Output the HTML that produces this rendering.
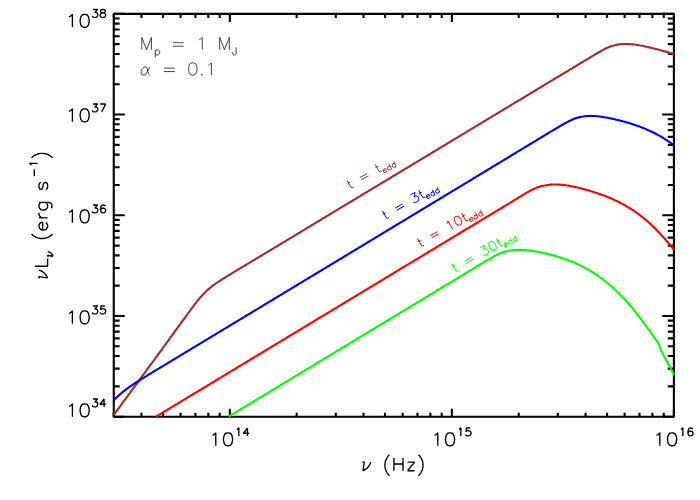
<!DOCTYPE html>
<html><head><meta charset="utf-8"><title>plot</title>
<style>
html,body{margin:0;padding:0;background:#fff;font-family:"Liberation Sans",sans-serif;}
svg{display:block;}
</style></head>
<body>
<svg width="700" height="500" viewBox="0 0 700 500">
<rect x="0" y="0" width="700" height="500" fill="#fff"/>
<rect x="113.75" y="13.85" width="560.15" height="402.85" fill="none" stroke="#000" stroke-width="2.10" stroke-linejoin="round"/>
<path d="M113.75 416.70V412.67M113.75 13.85V17.88M141.49 416.70V412.67M141.49 13.85V17.88M163.01 416.70V412.67M163.01 13.85V17.88M180.59 416.70V412.67M180.59 13.85V17.88M195.45 416.70V412.67M195.45 13.85V17.88M208.33 416.70V412.67M208.33 13.85V17.88M219.68 416.70V412.67M219.68 13.85V17.88M229.84 416.70V408.64M229.84 13.85V21.91M296.68 416.70V412.67M296.68 13.85V17.88M335.78 416.70V412.67M335.78 13.85V17.88M363.52 416.70V412.67M363.52 13.85V17.88M385.03 416.70V412.67M385.03 13.85V17.88M402.62 416.70V412.67M402.62 13.85V17.88M417.48 416.70V412.67M417.48 13.85V17.88M430.36 416.70V412.67M430.36 13.85V17.88M441.71 416.70V412.67M441.71 13.85V17.88M451.87 416.70V408.64M451.87 13.85V21.91M518.71 416.70V412.67M518.71 13.85V17.88M557.81 416.70V412.67M557.81 13.85V17.88M585.55 416.70V412.67M585.55 13.85V17.88M607.06 416.70V412.67M607.06 13.85V17.88M624.64 416.70V412.67M624.64 13.85V17.88M639.51 416.70V412.67M639.51 13.85V17.88M652.38 416.70V412.67M652.38 13.85V17.88M663.74 416.70V412.67M663.74 13.85V17.88M673.90 416.70V408.64M673.90 13.85V21.91M113.75 416.70H124.75M673.90 416.70H662.20M113.75 386.38H119.65M673.90 386.38H667.80M113.75 368.65H119.65M673.90 368.65H667.80M113.75 356.07H119.65M673.90 356.07H667.80M113.75 346.30H119.65M673.90 346.30H667.80M113.75 338.33H119.65M673.90 338.33H667.80M113.75 331.59H119.65M673.90 331.59H667.80M113.75 325.75H119.65M673.90 325.75H667.80M113.75 320.60H119.65M673.90 320.60H667.80M113.75 315.99H124.75M673.90 315.99H662.20M113.75 285.67H119.65M673.90 285.67H667.80M113.75 267.94H119.65M673.90 267.94H667.80M113.75 255.35H119.65M673.90 255.35H667.80M113.75 245.59H119.65M673.90 245.59H667.80M113.75 237.62H119.65M673.90 237.62H667.80M113.75 230.88H119.65M673.90 230.88H667.80M113.75 225.04H119.65M673.90 225.04H667.80M113.75 219.88H119.65M673.90 219.88H667.80M113.75 215.28H124.75M673.90 215.28H662.20M113.75 184.96H119.65M673.90 184.96H667.80M113.75 167.22H119.65M673.90 167.22H667.80M113.75 154.64H119.65M673.90 154.64H667.80M113.75 144.88H119.65M673.90 144.88H667.80M113.75 136.91H119.65M673.90 136.91H667.80M113.75 130.16H119.65M673.90 130.16H667.80M113.75 124.32H119.65M673.90 124.32H667.80M113.75 119.17H119.65M673.90 119.17H667.80M113.75 114.56H124.75M673.90 114.56H662.20M113.75 84.25H119.65M673.90 84.25H667.80M113.75 66.51H119.65M673.90 66.51H667.80M113.75 53.93H119.65M673.90 53.93H667.80M113.75 44.17H119.65M673.90 44.17H667.80M113.75 36.19H119.65M673.90 36.19H667.80M113.75 29.45H119.65M673.90 29.45H667.80M113.75 23.61H119.65M673.90 23.61H667.80M113.75 18.46H119.65M673.90 18.46H667.80M113.75 13.85H124.75M673.90 13.85H662.20" stroke="#000" stroke-width="2.10" fill="none"/>
<clipPath id="c"><rect x="112.75" y="13.85" width="562.15" height="403.85"/></clipPath>
<path d="M113.75 414.99L115.25 412.94L116.75 410.89L118.25 408.84L119.75 406.80L121.25 404.75L122.75 402.70L124.25 400.66L125.75 398.61L127.25 396.57L128.75 394.52L130.25 392.48L131.75 390.43L133.25 388.39L134.75 386.34L136.25 384.30L137.75 382.26L139.25 380.21L140.75 378.17L142.25 376.12L143.75 374.08L145.25 372.04L146.75 369.99L148.25 367.94L149.75 365.90L151.25 363.85L152.75 361.81L154.25 359.76L155.75 357.71L157.25 355.66L158.75 353.61L160.25 351.56L161.75 349.51L163.25 347.46L164.75 345.40L166.25 343.35L167.75 341.29L169.25 339.23L170.75 337.18L172.25 335.12L173.75 333.06L175.25 330.99L176.75 328.93L178.25 326.87L179.75 324.81L181.25 322.74L182.75 320.68L184.25 318.62L185.75 316.56L187.25 314.50L188.75 312.44L190.25 310.38L191.75 308.34L193.25 306.32L194.75 304.33L196.25 302.38L197.75 300.49L199.25 298.67L200.75 296.93L202.25 295.27L203.75 293.69L205.25 292.19L206.75 290.75L208.25 289.39L209.75 288.09L211.25 286.85L212.75 285.68L214.25 284.56L215.75 283.51L217.25 282.50L218.75 281.53L220.25 280.57L221.75 279.62L223.25 278.68L224.75 277.74L226.25 276.81L227.75 275.88L229.25 274.95L230.75 274.03L232.25 273.12L233.75 272.20L235.25 271.29L236.75 270.39L238.25 269.48L239.75 268.58L241.25 267.68L242.75 266.78L244.25 265.88L245.75 264.99L247.25 264.09L248.75 263.20L250.25 262.30L251.75 261.41L253.25 260.51L254.75 259.61L256.25 258.72L257.75 257.82L259.25 256.92L260.75 256.02L262.25 255.12L263.75 254.22L265.25 253.32L266.75 252.42L268.25 251.51L269.75 250.61L271.25 249.71L272.75 248.80L274.25 247.90L275.75 246.99L277.25 246.09L278.75 245.18L280.25 244.27L281.75 243.37L283.25 242.46L284.75 241.56L286.25 240.65L287.75 239.74L289.25 238.84L290.75 237.93L292.25 237.03L293.75 236.12L295.25 235.22L296.75 234.31L298.25 233.40L299.75 232.50L301.25 231.59L302.75 230.69L304.25 229.78L305.75 228.88L307.25 227.97L308.75 227.07L310.25 226.16L311.75 225.26L313.25 224.35L314.75 223.45L316.25 222.54L317.75 221.64L319.25 220.73L320.75 219.83L322.25 218.92L323.75 218.02L325.25 217.11L326.75 216.21L328.25 215.30L329.75 214.40L331.25 213.50L332.75 212.59L334.25 211.69L335.75 210.78L337.25 209.88L338.75 208.97L340.25 208.07L341.75 207.16L343.25 206.26L344.75 205.36L346.25 204.45L347.75 203.55L349.25 202.64L350.75 201.74L352.25 200.83L353.75 199.93L355.25 199.03L356.75 198.12L358.25 197.22L359.75 196.31L361.25 195.41L362.75 194.51L364.25 193.60L365.75 192.70L367.25 191.79L368.75 190.89L370.25 189.99L371.75 189.08L373.25 188.18L374.75 187.27L376.25 186.37L377.75 185.47L379.25 184.56L380.75 183.66L382.25 182.75L383.75 181.85L385.25 180.95L386.75 180.04L388.25 179.14L389.75 178.23L391.25 177.33L392.75 176.43L394.25 175.52L395.75 174.62L397.25 173.72L398.75 172.81L400.25 171.91L401.75 171.00L403.25 170.10L404.75 169.20L406.25 168.29L407.75 167.39L409.25 166.48L410.75 165.58L412.25 164.68L413.75 163.77L415.25 162.87L416.75 161.96L418.25 161.06L419.75 160.15L421.25 159.25L422.75 158.35L424.25 157.44L425.75 156.54L427.25 155.63L428.75 154.73L430.25 153.83L431.75 152.92L433.25 152.02L434.75 151.11L436.25 150.21L437.75 149.30L439.25 148.40L440.75 147.50L442.25 146.59L443.75 145.69L445.25 144.78L446.75 143.88L448.25 142.97L449.75 142.07L451.25 141.17L452.75 140.26L454.25 139.36L455.75 138.45L457.25 137.55L458.75 136.64L460.25 135.74L461.75 134.84L463.25 133.93L464.75 133.03L466.25 132.12L467.75 131.22L469.25 130.31L470.75 129.41L472.25 128.50L473.75 127.60L475.25 126.70L476.75 125.79L478.25 124.89L479.75 123.98L481.25 123.08L482.75 122.17L484.25 121.27L485.75 120.36L487.25 119.46L488.75 118.55L490.25 117.65L491.75 116.75L493.25 115.84L494.75 114.94L496.25 114.03L497.75 113.13L499.25 112.22L500.75 111.32L502.25 110.41L503.75 109.51L505.25 108.61L506.75 107.70L508.25 106.80L509.75 105.89L511.25 104.99L512.75 104.08L514.25 103.18L515.75 102.27L517.25 101.37L518.75 100.46L520.25 99.56L521.75 98.66L523.25 97.75L524.75 96.85L526.25 95.94L527.75 95.04L529.25 94.13L530.75 93.23L532.25 92.32L533.75 91.42L535.25 90.52L536.75 89.61L538.25 88.71L539.75 87.80L541.25 86.90L542.75 85.99L544.25 85.09L545.75 84.18L547.25 83.28L548.75 82.38L550.25 81.47L551.75 80.57L553.25 79.66L554.75 78.76L556.25 77.85L557.75 76.95L559.25 76.05L560.75 75.14L562.25 74.24L563.75 73.34L565.25 72.43L566.75 71.53L568.25 70.62L569.75 69.72L571.25 68.82L572.75 67.91L574.25 67.01L575.75 66.11L577.25 65.21L578.75 64.30L580.25 63.40L581.75 62.50L583.25 61.60L584.75 60.70L586.25 59.80L587.75 58.89L589.25 57.99L590.75 57.09L592.25 56.20L593.75 55.30L595.25 54.40L596.75 53.51L598.25 52.62L599.75 51.75L601.25 50.90L602.75 50.08L604.25 49.29L605.75 48.54L607.25 47.84L608.75 47.20L610.25 46.61L611.75 46.09L613.25 45.64L614.75 45.24L616.25 44.90L617.75 44.62L619.25 44.39L620.75 44.22L622.25 44.09L623.75 44.01L625.25 43.97L626.75 43.97L628.25 44.01L629.75 44.09L631.25 44.21L632.75 44.35L634.25 44.53L635.75 44.73L637.25 44.96L638.75 45.21L640.25 45.47L641.75 45.76L643.25 46.06L644.75 46.38L646.25 46.70L647.75 47.03L649.25 47.38L650.75 47.73L652.25 48.09L653.75 48.46L655.25 48.83L656.75 49.22L658.25 49.60L659.75 50.00L661.25 50.40L662.75 50.80L664.25 51.21L665.75 51.63L667.25 52.05L668.75 52.47L670.25 52.90L671.75 53.32L673.25 53.75L674.00 53.97" fill="none" stroke="#a52a2a" stroke-width="2.10" stroke-linejoin="round" clip-path="url(#c)"/>
<path d="M113.75 400.32L115.25 398.79L116.75 397.32L118.25 395.91L119.75 394.56L121.25 393.26L122.75 392.01L124.25 390.81L125.75 389.66L127.25 388.54L128.75 387.45L130.25 386.40L131.75 385.37L133.25 384.37L134.75 383.39L136.25 382.42L137.75 381.47L139.25 380.52L140.75 379.58L142.25 378.64L143.75 377.71L145.25 376.78L146.75 375.85L148.25 374.93L149.75 374.01L151.25 373.09L152.75 372.18L154.25 371.27L155.75 370.36L157.25 369.45L158.75 368.55L160.25 367.64L161.75 366.74L163.25 365.83L164.75 364.93L166.25 364.03L167.75 363.12L169.25 362.22L170.75 361.31L172.25 360.41L173.75 359.50L175.25 358.60L176.75 357.69L178.25 356.79L179.75 355.88L181.25 354.97L182.75 354.07L184.25 353.16L185.75 352.26L187.25 351.35L188.75 350.44L190.25 349.54L191.75 348.63L193.25 347.72L194.75 346.82L196.25 345.91L197.75 345.00L199.25 344.09L200.75 343.19L202.25 342.28L203.75 341.37L205.25 340.47L206.75 339.56L208.25 338.66L209.75 337.75L211.25 336.84L212.75 335.94L214.25 335.03L215.75 334.13L217.25 333.22L218.75 332.32L220.25 331.41L221.75 330.50L223.25 329.60L224.75 328.69L226.25 327.79L227.75 326.88L229.25 325.98L230.75 325.07L232.25 324.17L233.75 323.26L235.25 322.36L236.75 321.45L238.25 320.55L239.75 319.64L241.25 318.74L242.75 317.83L244.25 316.93L245.75 316.02L247.25 315.12L248.75 314.22L250.25 313.31L251.75 312.41L253.25 311.50L254.75 310.60L256.25 309.69L257.75 308.79L259.25 307.88L260.75 306.98L262.25 306.07L263.75 305.17L265.25 304.26L266.75 303.36L268.25 302.45L269.75 301.55L271.25 300.64L272.75 299.74L274.25 298.83L275.75 297.93L277.25 297.02L278.75 296.12L280.25 295.21L281.75 294.31L283.25 293.40L284.75 292.50L286.25 291.59L287.75 290.69L289.25 289.78L290.75 288.87L292.25 287.97L293.75 287.06L295.25 286.16L296.75 285.25L298.25 284.35L299.75 283.44L301.25 282.54L302.75 281.63L304.25 280.72L305.75 279.82L307.25 278.91L308.75 278.01L310.25 277.10L311.75 276.19L313.25 275.29L314.75 274.38L316.25 273.48L317.75 272.57L319.25 271.66L320.75 270.76L322.25 269.85L323.75 268.94L325.25 268.04L326.75 267.13L328.25 266.23L329.75 265.32L331.25 264.41L332.75 263.51L334.25 262.60L335.75 261.69L337.25 260.79L338.75 259.88L340.25 258.98L341.75 258.07L343.25 257.16L344.75 256.26L346.25 255.35L347.75 254.44L349.25 253.54L350.75 252.63L352.25 251.72L353.75 250.82L355.25 249.91L356.75 249.00L358.25 248.10L359.75 247.19L361.25 246.28L362.75 245.38L364.25 244.47L365.75 243.56L367.25 242.66L368.75 241.75L370.25 240.84L371.75 239.94L373.25 239.03L374.75 238.12L376.25 237.22L377.75 236.31L379.25 235.40L380.75 234.50L382.25 233.59L383.75 232.68L385.25 231.78L386.75 230.87L388.25 229.96L389.75 229.06L391.25 228.15L392.75 227.24L394.25 226.34L395.75 225.43L397.25 224.52L398.75 223.62L400.25 222.71L401.75 221.80L403.25 220.90L404.75 219.99L406.25 219.08L407.75 218.17L409.25 217.27L410.75 216.36L412.25 215.45L413.75 214.55L415.25 213.64L416.75 212.73L418.25 211.83L419.75 210.92L421.25 210.01L422.75 209.11L424.25 208.20L425.75 207.29L427.25 206.39L428.75 205.48L430.25 204.57L431.75 203.67L433.25 202.76L434.75 201.85L436.25 200.95L437.75 200.04L439.25 199.13L440.75 198.23L442.25 197.32L443.75 196.41L445.25 195.51L446.75 194.60L448.25 193.69L449.75 192.79L451.25 191.88L452.75 190.97L454.25 190.06L455.75 189.16L457.25 188.25L458.75 187.34L460.25 186.44L461.75 185.53L463.25 184.62L464.75 183.72L466.25 182.81L467.75 181.90L469.25 180.99L470.75 180.09L472.25 179.18L473.75 178.27L475.25 177.36L476.75 176.46L478.25 175.55L479.75 174.64L481.25 173.74L482.75 172.83L484.25 171.92L485.75 171.01L487.25 170.11L488.75 169.20L490.25 168.29L491.75 167.38L493.25 166.47L494.75 165.57L496.25 164.66L497.75 163.75L499.25 162.84L500.75 161.94L502.25 161.03L503.75 160.12L505.25 159.21L506.75 158.30L508.25 157.40L509.75 156.49L511.25 155.58L512.75 154.67L514.25 153.76L515.75 152.85L517.25 151.95L518.75 151.04L520.25 150.13L521.75 149.22L523.25 148.31L524.75 147.40L526.25 146.49L527.75 145.58L529.25 144.68L530.75 143.77L532.25 142.86L533.75 141.95L535.25 141.04L536.75 140.13L538.25 139.22L539.75 138.31L541.25 137.40L542.75 136.49L544.25 135.58L545.75 134.68L547.25 133.77L548.75 132.86L550.25 131.96L551.75 131.06L553.25 130.16L554.75 129.27L556.25 128.37L557.75 127.48L559.25 126.60L560.75 125.72L562.25 124.84L563.75 123.98L565.25 123.14L566.75 122.32L568.25 121.54L569.75 120.79L571.25 120.08L572.75 119.43L574.25 118.82L575.75 118.28L577.25 117.80L578.75 117.38L580.25 117.02L581.75 116.71L583.25 116.46L584.75 116.26L586.25 116.10L587.75 116.00L589.25 115.93L590.75 115.91L592.25 115.93L593.75 115.98L595.25 116.07L596.75 116.19L598.25 116.34L599.75 116.52L601.25 116.72L602.75 116.95L604.25 117.19L605.75 117.46L607.25 117.74L608.75 118.03L610.25 118.34L611.75 118.65L613.25 118.98L614.75 119.31L616.25 119.66L617.75 120.01L619.25 120.38L620.75 120.76L622.25 121.15L623.75 121.55L625.25 121.96L626.75 122.39L628.25 122.83L629.75 123.28L631.25 123.75L632.75 124.23L634.25 124.73L635.75 125.24L637.25 125.77L638.75 126.31L640.25 126.87L641.75 127.45L643.25 128.04L644.75 128.65L646.25 129.28L647.75 129.93L649.25 130.59L650.75 131.28L652.25 131.99L653.75 132.72L655.25 133.48L656.75 134.26L658.25 135.07L659.75 135.91L661.25 136.78L662.75 137.68L664.25 138.60L665.75 139.57L667.25 140.56L668.75 141.59L670.25 142.66L671.75 143.76L673.25 144.90L674.00 145.48" fill="none" stroke="#0000ff" stroke-width="2.10" stroke-linejoin="round" clip-path="url(#c)"/>
<path d="M156.25 416.50L157.75 415.59L159.25 414.69L160.75 413.78L162.25 412.87L163.75 411.97L165.25 411.06L166.75 410.16L168.25 409.25L169.75 408.35L171.25 407.44L172.75 406.53L174.25 405.63L175.75 404.72L177.25 403.82L178.75 402.91L180.25 402.00L181.75 401.10L183.25 400.19L184.75 399.29L186.25 398.38L187.75 397.47L189.25 396.57L190.75 395.66L192.25 394.76L193.75 393.85L195.25 392.95L196.75 392.04L198.25 391.13L199.75 390.23L201.25 389.32L202.75 388.42L204.25 387.51L205.75 386.60L207.25 385.70L208.75 384.79L210.25 383.89L211.75 382.98L213.25 382.07L214.75 381.17L216.25 380.26L217.75 379.36L219.25 378.45L220.75 377.54L222.25 376.64L223.75 375.73L225.25 374.83L226.75 373.92L228.25 373.01L229.75 372.11L231.25 371.20L232.75 370.30L234.25 369.39L235.75 368.48L237.25 367.58L238.75 366.67L240.25 365.77L241.75 364.86L243.25 363.95L244.75 363.05L246.25 362.14L247.75 361.24L249.25 360.33L250.75 359.42L252.25 358.52L253.75 357.61L255.25 356.71L256.75 355.80L258.25 354.89L259.75 353.99L261.25 353.08L262.75 352.18L264.25 351.27L265.75 350.36L267.25 349.46L268.75 348.55L270.25 347.65L271.75 346.74L273.25 345.83L274.75 344.93L276.25 344.02L277.75 343.12L279.25 342.21L280.75 341.30L282.25 340.40L283.75 339.49L285.25 338.59L286.75 337.68L288.25 336.77L289.75 335.87L291.25 334.96L292.75 334.06L294.25 333.15L295.75 332.24L297.25 331.34L298.75 330.43L300.25 329.53L301.75 328.62L303.25 327.71L304.75 326.81L306.25 325.90L307.75 325.00L309.25 324.09L310.75 323.18L312.25 322.28L313.75 321.37L315.25 320.46L316.75 319.56L318.25 318.65L319.75 317.75L321.25 316.84L322.75 315.93L324.25 315.03L325.75 314.12L327.25 313.22L328.75 312.31L330.25 311.40L331.75 310.50L333.25 309.59L334.75 308.69L336.25 307.78L337.75 306.87L339.25 305.97L340.75 305.06L342.25 304.16L343.75 303.25L345.25 302.35L346.75 301.44L348.25 300.53L349.75 299.63L351.25 298.72L352.75 297.82L354.25 296.91L355.75 296.00L357.25 295.10L358.75 294.19L360.25 293.29L361.75 292.38L363.25 291.47L364.75 290.57L366.25 289.66L367.75 288.76L369.25 287.85L370.75 286.94L372.25 286.04L373.75 285.13L375.25 284.23L376.75 283.32L378.25 282.41L379.75 281.51L381.25 280.60L382.75 279.70L384.25 278.79L385.75 277.89L387.25 276.98L388.75 276.07L390.25 275.17L391.75 274.26L393.25 273.36L394.75 272.45L396.25 271.54L397.75 270.64L399.25 269.73L400.75 268.83L402.25 267.92L403.75 267.02L405.25 266.11L406.75 265.20L408.25 264.30L409.75 263.39L411.25 262.49L412.75 261.58L414.25 260.67L415.75 259.77L417.25 258.86L418.75 257.96L420.25 257.05L421.75 256.15L423.25 255.24L424.75 254.33L426.25 253.43L427.75 252.52L429.25 251.62L430.75 250.71L432.25 249.81L433.75 248.90L435.25 247.99L436.75 247.09L438.25 246.18L439.75 245.27L441.25 244.37L442.75 243.46L444.25 242.56L445.75 241.65L447.25 240.74L448.75 239.84L450.25 238.93L451.75 238.02L453.25 237.12L454.75 236.21L456.25 235.30L457.75 234.39L459.25 233.49L460.75 232.58L462.25 231.67L463.75 230.76L465.25 229.86L466.75 228.95L468.25 228.04L469.75 227.14L471.25 226.23L472.75 225.32L474.25 224.42L475.75 223.51L477.25 222.61L478.75 221.70L480.25 220.80L481.75 219.89L483.25 218.99L484.75 218.09L486.25 217.18L487.75 216.28L489.25 215.38L490.75 214.48L492.25 213.57L493.75 212.67L495.25 211.77L496.75 210.87L498.25 209.96L499.75 209.06L501.25 208.16L502.75 207.25L504.25 206.35L505.75 205.44L507.25 204.53L508.75 203.62L510.25 202.71L511.75 201.80L513.25 200.88L514.75 199.97L516.25 199.05L517.75 198.13L519.25 197.21L520.75 196.29L522.25 195.36L523.75 194.45L525.25 193.54L526.75 192.66L528.25 191.80L529.75 190.98L531.25 190.19L532.75 189.44L534.25 188.75L535.75 188.11L537.25 187.53L538.75 187.01L540.25 186.54L541.75 186.12L543.25 185.76L544.75 185.44L546.25 185.17L547.75 184.95L549.25 184.77L550.75 184.63L552.25 184.53L553.75 184.47L555.25 184.45L556.75 184.46L558.25 184.50L559.75 184.58L561.25 184.69L562.75 184.83L564.25 185.00L565.75 185.19L567.25 185.42L568.75 185.66L570.25 185.93L571.75 186.22L573.25 186.53L574.75 186.85L576.25 187.20L577.75 187.56L579.25 187.93L580.75 188.32L582.25 188.72L583.75 189.13L585.25 189.55L586.75 189.97L588.25 190.40L589.75 190.85L591.25 191.30L592.75 191.76L594.25 192.23L595.75 192.71L597.25 193.21L598.75 193.72L600.25 194.24L601.75 194.78L603.25 195.33L604.75 195.89L606.25 196.47L607.75 197.07L609.25 197.69L610.75 198.32L612.25 198.97L613.75 199.64L615.25 200.33L616.75 201.04L618.25 201.78L619.75 202.53L621.25 203.31L622.75 204.11L624.25 204.93L625.75 205.78L627.25 206.66L628.75 207.56L630.25 208.49L631.75 209.45L633.25 210.43L634.75 211.45L636.25 212.49L637.75 213.57L639.25 214.68L640.75 215.81L642.25 216.99L643.75 218.19L645.25 219.43L646.75 220.71L648.25 222.02L649.75 223.37L651.25 224.75L652.75 226.17L654.25 227.62L655.75 229.11L657.25 230.64L658.75 232.20L660.25 233.81L661.75 235.44L663.25 237.11L664.75 238.81L666.25 240.54L667.75 242.30L669.25 244.07L670.75 245.87L672.25 247.68L673.75 249.50L674.00 249.81" fill="none" stroke="#ff0000" stroke-width="2.10" stroke-linejoin="round" clip-path="url(#c)"/>
<path d="M228.75 416.49L230.25 415.59L231.75 414.68L233.25 413.78L234.75 412.87L236.25 411.96L237.75 411.06L239.25 410.15L240.75 409.24L242.25 408.34L243.75 407.43L245.25 406.53L246.75 405.62L248.25 404.71L249.75 403.81L251.25 402.90L252.75 401.99L254.25 401.09L255.75 400.18L257.25 399.27L258.75 398.37L260.25 397.46L261.75 396.55L263.25 395.65L264.75 394.74L266.25 393.83L267.75 392.93L269.25 392.02L270.75 391.11L272.25 390.21L273.75 389.30L275.25 388.39L276.75 387.49L278.25 386.58L279.75 385.67L281.25 384.77L282.75 383.86L284.25 382.95L285.75 382.05L287.25 381.14L288.75 380.23L290.25 379.33L291.75 378.42L293.25 377.51L294.75 376.61L296.25 375.70L297.75 374.79L299.25 373.89L300.75 372.98L302.25 372.07L303.75 371.17L305.25 370.26L306.75 369.35L308.25 368.44L309.75 367.54L311.25 366.63L312.75 365.72L314.25 364.82L315.75 363.91L317.25 363.00L318.75 362.10L320.25 361.19L321.75 360.28L323.25 359.38L324.75 358.47L326.25 357.56L327.75 356.66L329.25 355.75L330.75 354.84L332.25 353.93L333.75 353.03L335.25 352.12L336.75 351.21L338.25 350.31L339.75 349.40L341.25 348.49L342.75 347.59L344.25 346.68L345.75 345.77L347.25 344.87L348.75 343.96L350.25 343.05L351.75 342.15L353.25 341.24L354.75 340.33L356.25 339.42L357.75 338.52L359.25 337.61L360.75 336.70L362.25 335.80L363.75 334.89L365.25 333.98L366.75 333.08L368.25 332.17L369.75 331.26L371.25 330.36L372.75 329.45L374.25 328.54L375.75 327.64L377.25 326.73L378.75 325.82L380.25 324.92L381.75 324.01L383.25 323.10L384.75 322.20L386.25 321.29L387.75 320.38L389.25 319.48L390.75 318.57L392.25 317.66L393.75 316.76L395.25 315.85L396.75 314.94L398.25 314.04L399.75 313.13L401.25 312.22L402.75 311.32L404.25 310.41L405.75 309.50L407.25 308.60L408.75 307.69L410.25 306.78L411.75 305.88L413.25 304.97L414.75 304.07L416.25 303.16L417.75 302.25L419.25 301.35L420.75 300.44L422.25 299.53L423.75 298.63L425.25 297.72L426.75 296.81L428.25 295.91L429.75 295.00L431.25 294.10L432.75 293.19L434.25 292.28L435.75 291.38L437.25 290.47L438.75 289.57L440.25 288.66L441.75 287.75L443.25 286.85L444.75 285.94L446.25 285.04L447.75 284.13L449.25 283.22L450.75 282.32L452.25 281.41L453.75 280.50L455.25 279.60L456.75 278.69L458.25 277.78L459.75 276.88L461.25 275.97L462.75 275.06L464.25 274.15L465.75 273.24L467.25 272.33L468.75 271.42L470.25 270.51L471.75 269.59L473.25 268.68L474.75 267.77L476.25 266.85L477.75 265.94L479.25 265.02L480.75 264.11L482.25 263.21L483.75 262.30L485.25 261.41L486.75 260.51L488.25 259.63L489.75 258.76L491.25 257.89L492.75 257.05L494.25 256.23L495.75 255.44L497.25 254.69L498.75 253.99L500.25 253.35L501.75 252.77L503.25 252.25L504.75 251.79L506.25 251.39L507.75 251.04L509.25 250.74L510.75 250.48L512.25 250.28L513.75 250.12L515.25 250.00L516.75 249.93L518.25 249.89L519.75 249.88L521.25 249.91L522.75 249.97L524.25 250.06L525.75 250.17L527.25 250.31L528.75 250.47L530.25 250.64L531.75 250.84L533.25 251.05L534.75 251.28L536.25 251.52L537.75 251.79L539.25 252.06L540.75 252.35L542.25 252.66L543.75 252.98L545.25 253.32L546.75 253.67L548.25 254.03L549.75 254.41L551.25 254.80L552.75 255.20L554.25 255.62L555.75 256.05L557.25 256.49L558.75 256.95L560.25 257.42L561.75 257.90L563.25 258.40L564.75 258.91L566.25 259.44L567.75 259.99L569.25 260.56L570.75 261.15L572.25 261.75L573.75 262.38L575.25 263.03L576.75 263.70L578.25 264.39L579.75 265.10L581.25 265.84L582.75 266.61L584.25 267.39L585.75 268.21L587.25 269.05L588.75 269.92L590.25 270.81L591.75 271.73L593.25 272.68L594.75 273.66L596.25 274.66L597.75 275.69L599.25 276.75L600.75 277.84L602.25 278.95L603.75 280.10L605.25 281.27L606.75 282.47L608.25 283.71L609.75 284.97L611.25 286.26L612.75 287.58L614.25 288.93L615.75 290.32L617.25 291.73L618.75 293.18L620.25 294.67L621.75 296.19L623.25 297.75L624.75 299.34L626.25 300.97L627.75 302.64L629.25 304.34L630.75 306.09L632.25 307.88L633.75 309.71L635.25 311.58L636.75 313.49L638.25 315.44L639.75 317.42L641.25 319.42L642.75 321.45L644.25 323.50L645.75 325.55L647.25 327.62L648.75 329.68L650.25 331.74L651.75 333.80L653.25 335.88L654.75 338.02L656.25 340.23L657.75 342.54L658.80 344.24L661.00 350.20L665.00 358.10L670.00 367.00L674.00 375.30" fill="none" stroke="#00ff00" stroke-width="2.10" stroke-linejoin="round" clip-path="url(#c)"/>
<path transform="translate(65.30 27.30)" d="M3.87 -10.46L5.16 -11.07L7.10 -12.91L7.10 -0.00M18.70 -12.91L16.77 -12.30L15.48 -10.46L14.84 -7.38L14.84 -5.54L15.48 -2.46L16.77 -0.61L18.70 -0.00L20.00 -0.00L21.93 -0.61L23.22 -2.46L23.87 -5.54L23.87 -7.38L23.22 -10.46L21.93 -12.30L20.00 -12.91L18.70 -12.91M27.77 -17.78L32.10 -17.78L29.73 -14.78L30.91 -14.78L31.70 -14.40L32.10 -14.03L32.49 -12.90L32.49 -12.15L32.10 -11.03L31.31 -10.28L30.13 -9.90L28.95 -9.90L27.77 -10.28L27.37 -10.65L26.98 -11.40M36.82 -17.78L35.64 -17.40L35.24 -16.65L35.24 -15.90L35.64 -15.15L36.42 -14.78L38.00 -14.40L39.18 -14.03L39.96 -13.28L40.36 -12.53L40.36 -11.40L39.96 -10.65L39.57 -10.28L38.39 -9.90L36.82 -9.90L35.64 -10.28L35.24 -10.65L34.85 -11.40L34.85 -12.53L35.24 -13.28L36.03 -14.03L37.21 -14.40L38.78 -14.78L39.57 -15.15L39.96 -15.90L39.96 -16.65L39.57 -17.40L38.39 -17.78L36.82 -17.78" fill="none" stroke="#000" stroke-width="1.35" stroke-linecap="butt" stroke-linejoin="round"/>
<path transform="translate(65.30 121.80)" d="M3.87 -10.46L5.16 -11.07L7.10 -12.91L7.10 -0.00M18.70 -12.91L16.77 -12.30L15.48 -10.46L14.84 -7.38L14.84 -5.54L15.48 -2.46L16.77 -0.61L18.70 -0.00L20.00 -0.00L21.93 -0.61L23.22 -2.46L23.87 -5.54L23.87 -7.38L23.22 -10.46L21.93 -12.30L20.00 -12.91L18.70 -12.91M27.77 -17.78L32.10 -17.78L29.73 -14.78L30.91 -14.78L31.70 -14.40L32.10 -14.03L32.49 -12.90L32.49 -12.15L32.10 -11.03L31.31 -10.28L30.13 -9.90L28.95 -9.90L27.77 -10.28L27.37 -10.65L26.98 -11.40M40.36 -17.78L36.42 -9.90M34.85 -17.78L40.36 -17.78" fill="none" stroke="#000" stroke-width="1.35" stroke-linecap="butt" stroke-linejoin="round"/>
<path transform="translate(65.30 222.80)" d="M3.87 -10.46L5.16 -11.07L7.10 -12.91L7.10 -0.00M18.70 -12.91L16.77 -12.30L15.48 -10.46L14.84 -7.38L14.84 -5.54L15.48 -2.46L16.77 -0.61L18.70 -0.00L20.00 -0.00L21.93 -0.61L23.22 -2.46L23.87 -5.54L23.87 -7.38L23.22 -10.46L21.93 -12.30L20.00 -12.91L18.70 -12.91M27.77 -17.78L32.10 -17.78L29.73 -14.78L30.91 -14.78L31.70 -14.40L32.10 -14.03L32.49 -12.90L32.49 -12.15L32.10 -11.03L31.31 -10.28L30.13 -9.90L28.95 -9.90L27.77 -10.28L27.37 -10.65L26.98 -11.40M39.96 -16.65L39.57 -17.40L38.39 -17.78L37.60 -17.78L36.42 -17.40L35.64 -16.28L35.24 -14.40L35.24 -12.53L35.64 -11.03L36.42 -10.28L37.60 -9.90L38.00 -9.90L39.18 -10.28L39.96 -11.03L40.36 -12.15L40.36 -12.53L39.96 -13.65L39.18 -14.40L38.00 -14.78L37.60 -14.78L36.42 -14.40L35.64 -13.65L35.24 -12.53" fill="none" stroke="#000" stroke-width="1.35" stroke-linecap="butt" stroke-linejoin="round"/>
<path transform="translate(65.30 323.80)" d="M3.87 -10.46L5.16 -11.07L7.10 -12.91L7.10 -0.00M18.70 -12.91L16.77 -12.30L15.48 -10.46L14.84 -7.38L14.84 -5.54L15.48 -2.46L16.77 -0.61L18.70 -0.00L20.00 -0.00L21.93 -0.61L23.22 -2.46L23.87 -5.54L23.87 -7.38L23.22 -10.46L21.93 -12.30L20.00 -12.91L18.70 -12.91M27.77 -17.78L32.10 -17.78L29.73 -14.78L30.91 -14.78L31.70 -14.40L32.10 -14.03L32.49 -12.90L32.49 -12.15L32.10 -11.03L31.31 -10.28L30.13 -9.90L28.95 -9.90L27.77 -10.28L27.37 -10.65L26.98 -11.40M39.57 -17.78L35.64 -17.78L35.24 -14.40L35.64 -14.78L36.82 -15.15L38.00 -15.15L39.18 -14.78L39.96 -14.03L40.36 -12.90L40.36 -12.15L39.96 -11.03L39.18 -10.28L38.00 -9.90L36.82 -9.90L35.64 -10.28L35.24 -10.65L34.85 -11.40" fill="none" stroke="#000" stroke-width="1.35" stroke-linecap="butt" stroke-linejoin="round"/>
<path transform="translate(65.30 416.80)" d="M3.87 -10.46L5.16 -11.07L7.10 -12.91L7.10 -0.00M18.70 -12.91L16.77 -12.30L15.48 -10.46L14.84 -7.38L14.84 -5.54L15.48 -2.46L16.77 -0.61L18.70 -0.00L20.00 -0.00L21.93 -0.61L23.22 -2.46L23.87 -5.54L23.87 -7.38L23.22 -10.46L21.93 -12.30L20.00 -12.91L18.70 -12.91M27.77 -17.78L32.10 -17.78L29.73 -14.78L30.91 -14.78L31.70 -14.40L32.10 -14.03L32.49 -12.90L32.49 -12.15L32.10 -11.03L31.31 -10.28L30.13 -9.90L28.95 -9.90L27.77 -10.28L27.37 -10.65L26.98 -11.40M38.78 -17.78L34.85 -12.53L40.55 -12.53M38.78 -17.78L38.78 -9.90" fill="none" stroke="#000" stroke-width="1.35" stroke-linecap="butt" stroke-linejoin="round"/>
<path transform="translate(229.44 445.80) translate(-20.77 0)" d="M3.87 -10.46L5.16 -11.07L7.10 -12.91L7.10 -0.00M18.70 -12.91L16.77 -12.30L15.48 -10.46L14.84 -7.38L14.84 -5.54L15.48 -2.46L16.77 -0.61L18.70 -0.00L20.00 -0.00L21.93 -0.61L23.22 -2.46L23.87 -5.54L23.87 -7.38L23.22 -10.46L21.93 -12.30L20.00 -12.91L18.70 -12.91M28.16 -16.28L28.95 -16.65L30.13 -17.78L30.13 -9.90M38.78 -17.78L34.85 -12.53L40.55 -12.53M38.78 -17.78L38.78 -9.90" fill="none" stroke="#000" stroke-width="1.35" stroke-linecap="butt" stroke-linejoin="round"/>
<path transform="translate(451.47 445.80) translate(-20.77 0)" d="M3.87 -10.46L5.16 -11.07L7.10 -12.91L7.10 -0.00M18.70 -12.91L16.77 -12.30L15.48 -10.46L14.84 -7.38L14.84 -5.54L15.48 -2.46L16.77 -0.61L18.70 -0.00L20.00 -0.00L21.93 -0.61L23.22 -2.46L23.87 -5.54L23.87 -7.38L23.22 -10.46L21.93 -12.30L20.00 -12.91L18.70 -12.91M28.16 -16.28L28.95 -16.65L30.13 -17.78L30.13 -9.90M39.57 -17.78L35.64 -17.78L35.24 -14.40L35.64 -14.78L36.82 -15.15L38.00 -15.15L39.18 -14.78L39.96 -14.03L40.36 -12.90L40.36 -12.15L39.96 -11.03L39.18 -10.28L38.00 -9.90L36.82 -9.90L35.64 -10.28L35.24 -10.65L34.85 -11.40" fill="none" stroke="#000" stroke-width="1.35" stroke-linecap="butt" stroke-linejoin="round"/>
<path transform="translate(673.50 445.80) translate(-20.77 0)" d="M3.87 -10.46L5.16 -11.07L7.10 -12.91L7.10 -0.00M18.70 -12.91L16.77 -12.30L15.48 -10.46L14.84 -7.38L14.84 -5.54L15.48 -2.46L16.77 -0.61L18.70 -0.00L20.00 -0.00L21.93 -0.61L23.22 -2.46L23.87 -5.54L23.87 -7.38L23.22 -10.46L21.93 -12.30L20.00 -12.91L18.70 -12.91M28.16 -16.28L28.95 -16.65L30.13 -17.78L30.13 -9.90M39.96 -16.65L39.57 -17.40L38.39 -17.78L37.60 -17.78L36.42 -17.40L35.64 -16.28L35.24 -14.40L35.24 -12.53L35.64 -11.03L36.42 -10.28L37.60 -9.90L38.00 -9.90L39.18 -10.28L39.96 -11.03L40.36 -12.15L40.36 -12.53L39.96 -13.65L39.18 -14.40L38.00 -14.78L37.60 -14.78L36.42 -14.40L35.64 -13.65L35.24 -12.53" fill="none" stroke="#000" stroke-width="1.35" stroke-linecap="butt" stroke-linejoin="round"/>
<path transform="translate(393.00 470.80) translate(-32.57 0)" d="M1.94 -8.61L3.87 -8.61L2.58 -0.00M10.32 -8.61L9.68 -6.76L9.03 -5.54L7.74 -3.69L5.80 -1.84L2.58 -0.00M29.02 -16.06L27.73 -14.75L26.45 -12.77L25.16 -10.14L24.51 -6.85L24.51 -4.22L25.16 -0.93L26.45 1.70L27.73 3.68L29.02 4.99M33.54 -12.91L33.54 -0.00M42.57 -12.91L42.57 -0.00M33.54 -6.76L42.57 -6.76M54.18 -8.61L47.09 -0.00M47.09 -8.61L54.18 -8.61M47.09 -0.00L54.18 -0.00M58.05 -16.06L59.34 -14.75L60.63 -12.77L61.92 -10.14L62.57 -6.85L62.57 -4.22L61.92 -0.93L60.63 1.70L59.34 3.68L58.05 4.99" fill="none" stroke="#000" stroke-width="1.35" stroke-linecap="butt" stroke-linejoin="round"/>
<path transform="translate(47.60 215.60) rotate(-90.00) translate(-64.83 0)" d="M1.94 -8.61L3.87 -8.61L2.58 -0.00M10.32 -8.61L9.68 -6.76L9.03 -5.54L7.74 -3.69L5.80 -1.84L2.58 -0.00M14.19 -12.91L14.19 -0.00M14.19 -0.00L21.93 -0.00M23.77 0.20L24.97 0.20L24.17 5.54M28.97 0.20L28.57 1.34L28.17 2.10L27.37 3.25L26.17 4.39L24.17 5.54M46.41 -16.06L45.12 -14.75L43.83 -12.77L42.54 -10.14L41.90 -6.85L41.90 -4.22L42.54 -0.93L43.83 1.70L45.12 3.68L46.41 4.99M50.28 -4.92L58.02 -4.92L58.02 -6.15L57.38 -7.38L56.73 -8.00L55.44 -8.61L53.51 -8.61L52.22 -8.00L50.93 -6.76L50.28 -4.92L50.28 -3.69L50.93 -1.84L52.22 -0.61L53.51 -0.00L55.44 -0.00L56.73 -0.61L58.02 -1.84M62.54 -8.61L62.54 -0.00M62.54 -4.92L63.18 -6.76L64.47 -8.00L65.76 -8.61L67.70 -8.61M78.02 -8.61L78.02 1.23L77.37 3.08L76.73 3.69L75.44 4.30L73.50 4.30L72.21 3.69M78.02 -6.76L76.73 -8.00L75.44 -8.61L73.50 -8.61L72.21 -8.00L70.92 -6.76L70.28 -4.92L70.28 -3.69L70.92 -1.84L72.21 -0.61L73.50 -0.00L75.44 -0.00L76.73 -0.61L78.02 -1.84M98.01 -6.76L97.37 -8.00L95.43 -8.61L93.50 -8.61L91.56 -8.00L90.92 -6.76L91.56 -5.54L92.85 -4.92L96.08 -4.30L97.37 -3.69L98.01 -2.46L98.01 -1.84L97.37 -0.61L95.43 -0.00L93.50 -0.00L91.56 -0.61L90.92 -1.84M104.10 -13.28L111.19 -13.28M115.12 -16.28L115.91 -16.65L117.09 -17.78L117.09 -9.90M122.56 -16.06L123.85 -14.75L125.14 -12.77L126.43 -10.14L127.08 -6.85L127.08 -4.22L126.43 -0.93L125.14 1.70L123.85 3.68L122.56 4.99" fill="none" stroke="#000" stroke-width="1.35" stroke-linecap="butt" stroke-linejoin="round"/>
<path transform="translate(139.40 49.70)" d="M2.40 -12.29L2.40 -0.00M2.40 -12.29L7.20 -0.00M12.00 -12.29L7.20 -0.00M12.00 -12.29L12.00 -0.00M15.89 0.19L15.89 7.80M15.89 1.28L16.63 0.55L17.38 0.19L18.49 0.19L19.24 0.55L19.98 1.28L20.35 2.36L20.35 3.09L19.98 4.18L19.24 4.90L18.49 5.26L17.38 5.26L16.63 4.90L15.89 4.18M33.47 -7.02L44.27 -7.02M33.47 -3.51L44.27 -3.51M59.87 -9.95L61.07 -10.53L62.87 -12.29L62.87 -0.00M80.27 -12.29L80.27 -0.00M80.27 -12.29L85.07 -0.00M89.87 -12.29L85.07 -0.00M89.87 -12.29L89.87 -0.00M96.73 -2.35L96.73 3.45L96.36 4.54L95.99 4.90L95.24 5.26L94.50 5.26L93.76 4.90L93.38 4.54L93.01 3.45L93.01 2.73" fill="none" stroke="#222" stroke-width="0.85" stroke-linecap="butt" stroke-linejoin="round"/>
<path transform="translate(139.40 75.10)" d="M10.20 -8.19L9.00 -5.26L7.20 -2.34L6.00 -0.58L4.80 -0.00L3.60 -0.00L2.40 -0.58L1.80 -1.75L1.80 -3.51L2.40 -5.26L3.00 -6.43L4.20 -7.60L5.40 -8.19L6.60 -8.19L7.20 -7.60L7.80 -6.43L8.40 -3.51L9.00 -1.75L9.60 -0.58L10.20 -0.00M24.60 -7.02L35.40 -7.02M24.60 -3.51L35.40 -3.51M52.80 -12.29L51.00 -11.70L49.80 -9.95L49.20 -7.02L49.20 -5.26L49.80 -2.34L51.00 -0.58L52.80 -0.00L54.00 -0.00L55.80 -0.58L57.00 -2.34L57.60 -5.26L57.60 -7.02L57.00 -9.95L55.80 -11.70L54.00 -12.29L52.80 -12.29M62.40 -1.17L61.80 -0.58L62.40 -0.00L63.00 -0.58L62.40 -1.17M69.00 -9.95L70.20 -10.53L72.00 -12.29L72.00 -0.00" fill="none" stroke="#222" stroke-width="0.85" stroke-linecap="butt" stroke-linejoin="round"/>
<path transform="translate(349.60 189.60) rotate(-29.70)" d="M2.31 -9.24L2.31 -1.76L2.78 -0.44L3.70 -0.00L4.62 -0.00M0.93 -6.16L4.16 -6.16M14.80 -5.28L23.12 -5.28M14.80 -2.64L23.12 -2.64M34.69 -9.24L34.69 -1.76L35.15 -0.44L36.08 -0.00L37.00 -0.00M33.30 -6.16L36.54 -6.16M38.18 0.77L41.62 0.77L41.62 0.22L41.34 -0.33L41.05 -0.60L40.48 -0.87L39.62 -0.87L39.04 -0.60L38.47 -0.05L38.18 0.77L38.18 1.31L38.47 2.13L39.04 2.68L39.62 2.95L40.48 2.95L41.05 2.68L41.62 2.13M46.79 -2.78L46.79 2.95M46.79 -0.05L46.21 -0.60L45.64 -0.87L44.78 -0.87L44.21 -0.60L43.63 -0.05L43.35 0.77L43.35 1.31L43.63 2.13L44.21 2.68L44.78 2.95L45.64 2.95L46.21 2.68L46.79 2.13M52.23 -2.78L52.23 2.95M52.23 -0.05L51.66 -0.60L51.09 -0.87L50.23 -0.87L49.65 -0.60L49.08 -0.05L48.79 0.77L48.79 1.31L49.08 2.13L49.65 2.68L50.23 2.95L51.09 2.95L51.66 2.68L52.23 2.13" fill="none" stroke="#a52a2a" stroke-width="0.90" stroke-linecap="butt" stroke-linejoin="round"/>
<path transform="translate(385.00 220.00) rotate(-29.70)" d="M2.31 -9.24L2.31 -1.76L2.78 -0.44L3.70 -0.00L4.62 -0.00M0.93 -6.16L4.16 -6.16M14.80 -5.28L23.12 -5.28M14.80 -2.64L23.12 -2.64M34.69 -9.24L39.77 -9.24L37.00 -5.72L38.39 -5.72L39.31 -5.28L39.77 -4.84L40.24 -3.52L40.24 -2.64L39.77 -1.32L38.85 -0.44L37.46 -0.00L36.08 -0.00L34.69 -0.44L34.23 -0.88L33.76 -1.76M43.94 -9.24L43.94 -1.76L44.40 -0.44L45.33 -0.00L46.25 -0.00M42.55 -6.16L45.79 -6.16M47.43 0.77L50.88 0.77L50.88 0.22L50.59 -0.33L50.30 -0.60L49.73 -0.87L48.87 -0.87L48.29 -0.60L47.72 -0.05L47.43 0.77L47.43 1.31L47.72 2.13L48.29 2.68L48.87 2.95L49.73 2.95L50.30 2.68L50.88 2.13M56.04 -2.78L56.04 2.95M56.04 -0.05L55.46 -0.60L54.89 -0.87L54.03 -0.87L53.46 -0.60L52.88 -0.05L52.60 0.77L52.60 1.31L52.88 2.13L53.46 2.68L54.03 2.95L54.89 2.95L55.46 2.68L56.04 2.13M61.48 -2.78L61.48 2.95M61.48 -0.05L60.91 -0.60L60.34 -0.87L59.48 -0.87L58.90 -0.60L58.33 -0.05L58.04 0.77L58.04 1.31L58.33 2.13L58.90 2.68L59.48 2.95L60.34 2.95L60.91 2.68L61.48 2.13" fill="none" stroke="#0000ff" stroke-width="0.90" stroke-linecap="butt" stroke-linejoin="round"/>
<path transform="translate(420.00 247.60) rotate(-29.70)" d="M2.31 -9.24L2.31 -1.76L2.78 -0.44L3.70 -0.00L4.62 -0.00M0.93 -6.16L4.16 -6.16M14.80 -5.28L23.12 -5.28M14.80 -2.64L23.12 -2.64M35.15 -7.48L36.08 -7.92L37.46 -9.24L37.46 -0.00M45.79 -9.24L44.40 -8.80L43.48 -7.48L43.01 -5.28L43.01 -3.96L43.48 -1.76L44.40 -0.44L45.79 -0.00L46.71 -0.00L48.10 -0.44L49.02 -1.76L49.49 -3.96L49.49 -5.28L49.02 -7.48L48.10 -8.80L46.71 -9.24L45.79 -9.24M53.19 -9.24L53.19 -1.76L53.65 -0.44L54.58 -0.00L55.50 -0.00M51.80 -6.16L55.04 -6.16M56.68 0.77L60.12 0.77L60.12 0.22L59.84 -0.33L59.55 -0.60L58.98 -0.87L58.12 -0.87L57.54 -0.60L56.97 -0.05L56.68 0.77L56.68 1.31L56.97 2.13L57.54 2.68L58.12 2.95L58.98 2.95L59.55 2.68L60.12 2.13M65.29 -2.78L65.29 2.95M65.29 -0.05L64.71 -0.60L64.14 -0.87L63.28 -0.87L62.71 -0.60L62.13 -0.05L61.85 0.77L61.85 1.31L62.13 2.13L62.71 2.68L63.28 2.95L64.14 2.95L64.71 2.68L65.29 2.13M70.73 -2.78L70.73 2.95M70.73 -0.05L70.16 -0.60L69.59 -0.87L68.73 -0.87L68.15 -0.60L67.58 -0.05L67.29 0.77L67.29 1.31L67.58 2.13L68.15 2.68L68.73 2.95L69.59 2.95L70.16 2.68L70.73 2.13" fill="none" stroke="#ff0000" stroke-width="0.90" stroke-linecap="butt" stroke-linejoin="round"/>
<path transform="translate(454.60 272.90) rotate(-29.70)" d="M2.31 -9.24L2.31 -1.76L2.78 -0.44L3.70 -0.00L4.62 -0.00M0.93 -6.16L4.16 -6.16M14.80 -5.28L23.12 -5.28M14.80 -2.64L23.12 -2.64M34.69 -9.24L39.77 -9.24L37.00 -5.72L38.39 -5.72L39.31 -5.28L39.77 -4.84L40.24 -3.52L40.24 -2.64L39.77 -1.32L38.85 -0.44L37.46 -0.00L36.08 -0.00L34.69 -0.44L34.23 -0.88L33.76 -1.76M45.79 -9.24L44.40 -8.80L43.48 -7.48L43.01 -5.28L43.01 -3.96L43.48 -1.76L44.40 -0.44L45.79 -0.00L46.71 -0.00L48.10 -0.44L49.02 -1.76L49.49 -3.96L49.49 -5.28L49.02 -7.48L48.10 -8.80L46.71 -9.24L45.79 -9.24M53.19 -9.24L53.19 -1.76L53.65 -0.44L54.58 -0.00L55.50 -0.00M51.80 -6.16L55.04 -6.16M56.68 0.77L60.12 0.77L60.12 0.22L59.84 -0.33L59.55 -0.60L58.98 -0.87L58.12 -0.87L57.54 -0.60L56.97 -0.05L56.68 0.77L56.68 1.31L56.97 2.13L57.54 2.68L58.12 2.95L58.98 2.95L59.55 2.68L60.12 2.13M65.29 -2.78L65.29 2.95M65.29 -0.05L64.71 -0.60L64.14 -0.87L63.28 -0.87L62.71 -0.60L62.13 -0.05L61.85 0.77L61.85 1.31L62.13 2.13L62.71 2.68L63.28 2.95L64.14 2.95L64.71 2.68L65.29 2.13M70.73 -2.78L70.73 2.95M70.73 -0.05L70.16 -0.60L69.59 -0.87L68.73 -0.87L68.15 -0.60L67.58 -0.05L67.29 0.77L67.29 1.31L67.58 2.13L68.15 2.68L68.73 2.95L69.59 2.95L70.16 2.68L70.73 2.13" fill="none" stroke="#00ff00" stroke-width="0.90" stroke-linecap="butt" stroke-linejoin="round"/>
</svg>
</body></html>
